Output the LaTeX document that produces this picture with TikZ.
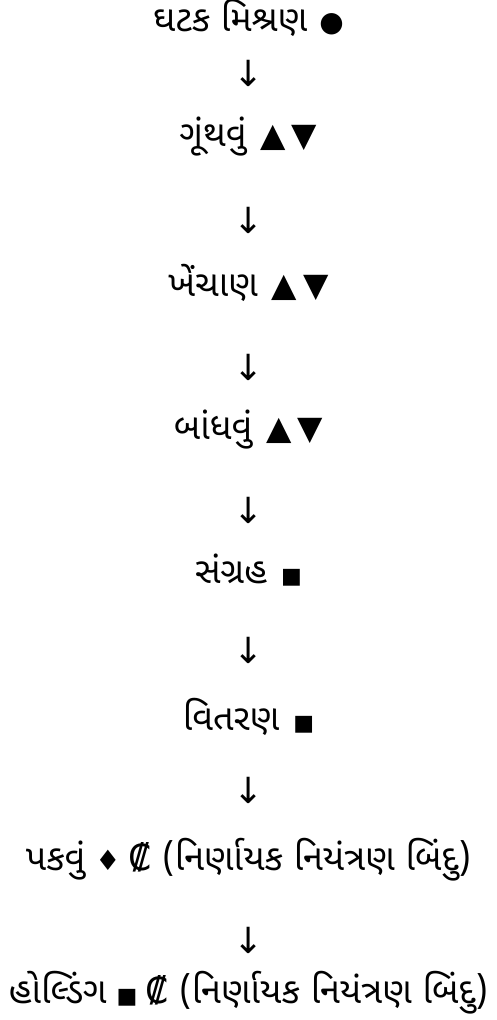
\documentclass[tikz,border=0pt]{standalone}
\usepackage{fontspec}
\newfontfamily\guj[Script=Gujarati]{Noto Sans Gujarati UI}
\newfontfamily\symf{DejaVu Sans}
\newcommand{\sy}[2]{{\symf\fontsize{#1}{#1}\selectfont #2}}
\newcommand{\tri}{\sy{33}{▲}\hspace{6pt}\sy{33}{▼}}
\begin{document}
\begin{tikzpicture}[x=1pt,y=1pt,
  lbl/.style={inner sep=0pt, font=\guj\fontsize{36}{40}\selectfont, text=black},
  arr/.style={inner sep=0pt, font=\symf\fontsize{36}{40}\selectfont, text=black}]
\useasboundingbox (0,0) rectangle (497,-1020);
\node[lbl] (n1) at (248.5,-18) {ઘટક મિશ્રણ\hspace{12pt}\sy{28}{●}};
\node[arr] (a1) at (248.5,-73) {↓};
\node[lbl] (n2) at (248.5,-137) {ગૂંથવું\hspace{14pt}\tri};
\node[arr] (a2) at (248.5,-220) {↓};
\node[lbl] (n3) at (248.5,-283) {ખેંચાણ\hspace{14pt}\tri};
\node[arr] (a3) at (248.5,-367) {↓};
\node[lbl] (n4) at (248.5,-430) {બાંધવું\hspace{14pt}\tri};
\node[arr] (a4) at (248.5,-510) {↓};
\node[lbl] (n5) at (248.5,-570) {સંગ્રહ\hspace{14pt}\sy{22}{■}};
\node[arr] (a5) at (248.5,-650) {↓};
\node[lbl] (n6) at (248.5,-717) {વિતરણ\hspace{14pt}\sy{22}{■}};
\node[arr] (a6) at (248.5,-790) {↓};
\node[lbl] (n7) at (248.5,-860) {પકવું\hspace{10pt}\sy{28}{♦}\hspace{8pt}\sy{36}{₡} (નિર્ણાયક નિયંત્રણ બિંદુ)};
\node[arr] (a7) at (248.5,-940) {↓};
\node[lbl] (n8) at (248.5,-993) {હોલ્ડિંગ\hspace{10pt}\sy{22}{■}\hspace{8pt}\sy{36}{₡} (નિર્ણાયક નિયંત્રણ બિંદુ)};
\end{tikzpicture}
\end{document}
